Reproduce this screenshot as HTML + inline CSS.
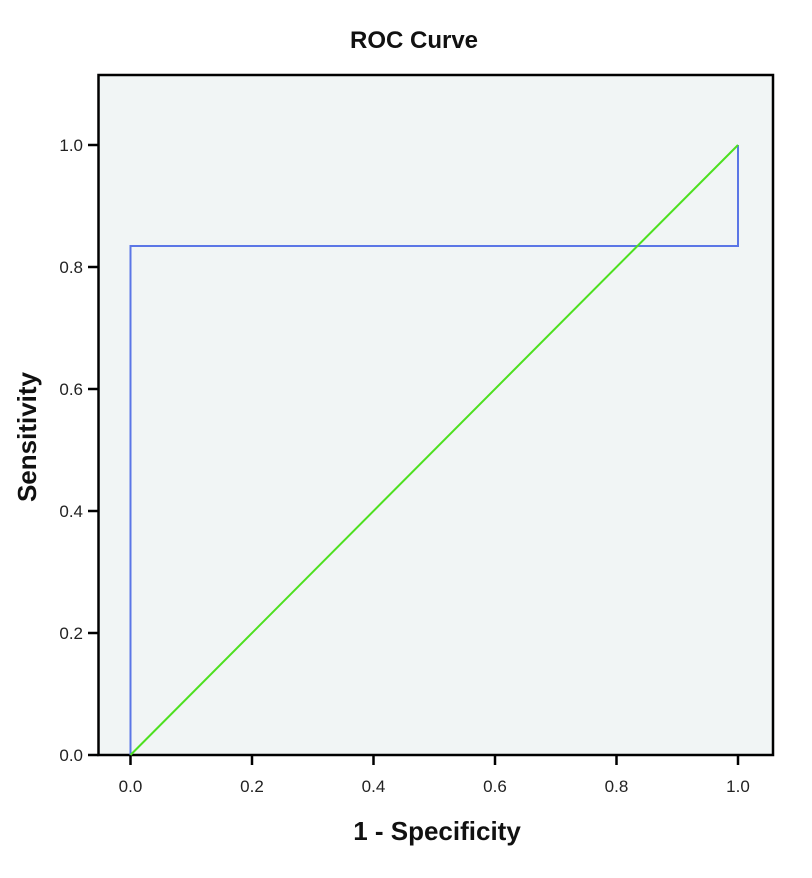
<!DOCTYPE html>
<html><head><style>body{margin:0;background:#fff}</style></head><body>
<svg width="812" height="873" xmlns="http://www.w3.org/2000/svg" font-family="Liberation Sans, Arial, sans-serif">
<rect x="0" y="0" width="812" height="873" fill="#fff"/>
<rect x="98.5" y="75" width="674.5" height="680" fill="#f1f5f5" stroke="#000" stroke-width="2.5"/>
<g stroke="#000" stroke-width="2.5">
<line x1="130.5" y1="755" x2="130.5" y2="765"/>
<line x1="252" y1="755" x2="252" y2="765"/>
<line x1="373.5" y1="755" x2="373.5" y2="765"/>
<line x1="495" y1="755" x2="495" y2="765"/>
<line x1="616.5" y1="755" x2="616.5" y2="765"/>
<line x1="738" y1="755" x2="738" y2="765"/>
<line x1="88" y1="755" x2="98.5" y2="755"/>
<line x1="88" y1="633" x2="98.5" y2="633"/>
<line x1="88" y1="511" x2="98.5" y2="511"/>
<line x1="88" y1="389" x2="98.5" y2="389"/>
<line x1="88" y1="267" x2="98.5" y2="267"/>
<line x1="88" y1="145" x2="98.5" y2="145"/>
</g>
<g font-size="17" fill="#222" text-anchor="middle">
<text x="130.5" y="792">0.0</text><text x="252" y="792">0.2</text><text x="373.5" y="792">0.4</text>
<text x="495" y="792">0.6</text><text x="616.5" y="792">0.8</text><text x="738" y="792">1.0</text>
</g>
<g font-size="17" fill="#222" text-anchor="end">
<text x="83" y="761">0.0</text><text x="83" y="639">0.2</text><text x="83" y="517">0.4</text>
<text x="83" y="395">0.6</text><text x="83" y="273">0.8</text><text x="83" y="151">1.0</text>
</g>
<polyline points="130.5,755 130.5,246 738,246 738,145" fill="none" stroke="#5b76e6" stroke-width="2"/>
<line x1="130.5" y1="755" x2="738" y2="145" stroke="#4de01f" stroke-width="2"/>
<text x="414" y="48" font-size="24" font-weight="bold" text-anchor="middle" fill="#111">ROC Curve</text>
<text x="437" y="840" font-size="26" font-weight="bold" text-anchor="middle" fill="#111">1 - Specificity</text>
<text transform="translate(36,437) rotate(-90)" font-size="26" font-weight="bold" text-anchor="middle" fill="#111">Sensitivity</text>
</svg>
</body></html>
